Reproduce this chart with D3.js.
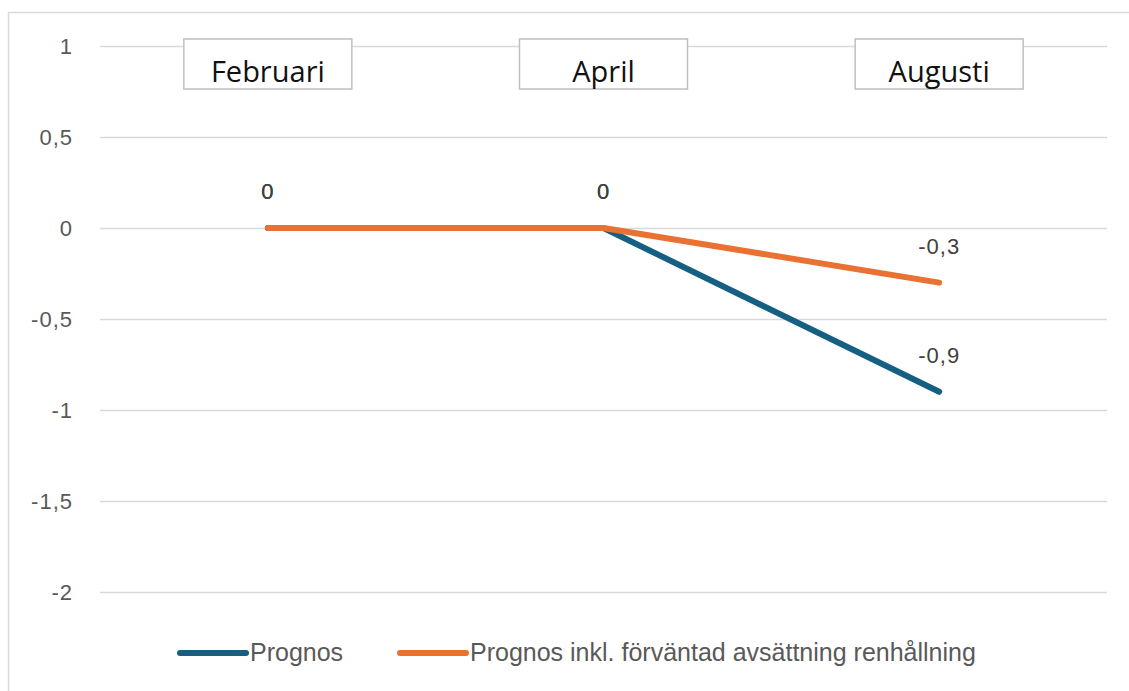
<!DOCTYPE html>
<html>
<head>
<meta charset="utf-8">
<script src="https://cdn.jsdelivr.net/npm/d3@7/dist/d3.min.js"></script>
<style>
  html, body { margin: 0; padding: 0; background: #ffffff; }
  svg { display: block; }
</style>
</head>
<body>
<svg id="chart" width="1129" height="691"></svg>
<script>
// ---- Data ----
const categories = ["Februari", "April", "Augusti"];
const seriesNames = ["Prognos", "Prognos inkl. förväntad avsättning renhållning"];
const prognos = [0, 0, -0.9];
const prognosInkl = [0, 0, -0.3];
const yTicks = [1, 0.5, 0, -0.5, -1, -1.5, -2];
const seriesColors = ["#156082", "#E97132"];

// ---- Layout ----
const W = 1129, H = 691;
const plot = { left: 100, right: 1107, top: 46, bottom: 592 };

const svg = d3.select("#chart");

// outer chart border
svg.append("rect")
  .attr("x", 8.5).attr("y", 12.5)
  .attr("width", W + 20).attr("height", H + 20)
  .attr("fill", "none").attr("stroke", "#d9d9d9").attr("stroke-width", 1.5);

const x = d3.scalePoint().domain(categories).range([plot.left, plot.right]).padding(0.5);
const y = d3.scaleLinear().domain([-2, 1]).range([plot.bottom, plot.top]);

const svLocale = d3.formatLocale({ decimal: ",", thousands: " ", grouping: [3], currency: ["", " kr"], minus: "-" });
const fmt = svLocale.format("~g");

// gridlines
svg.append("g").selectAll("line").data(yTicks).join("line")
  .attr("x1", plot.left).attr("x2", plot.right)
  .attr("y1", d => Math.round(y(d)) + 0.5).attr("y2", d => Math.round(y(d)) + 0.5)
  .attr("stroke", "#d9d9d9").attr("stroke-width", 1.3);

// y axis labels
const yAxis = d3.axisLeft(y).tickValues(yTicks).tickFormat(fmt).tickSize(0).tickPadding(0);
const gy = svg.append("g").attr("transform", `translate(73,0)`).call(yAxis);
gy.select(".domain").remove();
gy.selectAll("text")
  .attr("fill", "#595959")
  .style("font-family", "'Liberation Sans', Arial, sans-serif")
  .style("font-size", "22px")
  .style("letter-spacing", "1px");

// category boxes at the top
const boxW = 168, boxH = 50, boxY = 39;
const cg = svg.append("g").selectAll("g").data(categories).join("g")
  .attr("transform", d => `translate(${x(d)},0)`);
cg.append("rect")
  .attr("x", -boxW / 2).attr("y", boxY)
  .attr("width", boxW).attr("height", boxH)
  .attr("fill", "#ffffff").attr("stroke", "#bfbfbf").attr("stroke-width", 1.5);
cg.append("text")
  .attr("x", 0).attr("y", 82)
  .attr("text-anchor", "middle")
  .attr("fill", "#111111")
  .style("font-family", "'Open Sans', 'Noto Sans', sans-serif")
  .style("font-size", "29px")
  .text(d => d);

// lines
const allSeries = [prognos, prognosInkl];
const line = d3.line().x((d, i) => x(categories[i])).y(d => y(d));
svg.append("g").selectAll("path").data(allSeries).join("path")
  .attr("d", d => line(d))
  .attr("fill", "none")
  .attr("stroke", (d, i) => seriesColors[i])
  .attr("stroke-width", 6)
  .attr("stroke-linecap", "round")
  .attr("stroke-linejoin", "round");

// data labels
allSeries.forEach((s, si) => {
  svg.append("g").selectAll("text").data(s).join("text")
    .attr("x", (d, i) => x(categories[i]))
    .attr("y", d => y(d) - 29)
    .attr("text-anchor", "middle")
    .attr("fill", "#404040")
    .style("font-family", "'Liberation Sans', Arial, sans-serif")
    .style("font-size", "22px")
    .style("letter-spacing", "1px")
    .text(d => fmt(d));
});

// legend
const legendY = 653;
const legendStarts = [180, 400];
const lg = svg.append("g").selectAll("g").data(seriesNames).join("g")
  .attr("transform", (d, i) => `translate(${legendStarts[i]},${legendY})`);
lg.append("line")
  .attr("x1", 0).attr("x2", 66).attr("y1", 0).attr("y2", 0)
  .attr("stroke", (d, i) => seriesColors[i])
  .attr("stroke-width", 6).attr("stroke-linecap", "round");
lg.append("text")
  .attr("x", 70).attr("y", 8)
  .attr("fill", "#595959")
  .style("font-family", "'Liberation Sans', Arial, sans-serif")
  .style("font-size", "25px")
  .text(d => d);
</script>
</body>
</html>
